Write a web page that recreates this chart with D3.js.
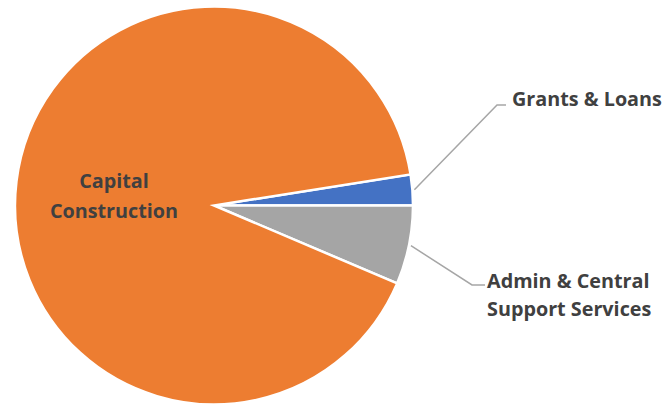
<!DOCTYPE html>
<html>
<head>
<meta charset="utf-8">
<script src="https://cdn.jsdelivr.net/npm/d3@7"></script>
<style>
  html, body { margin: 0; padding: 0; background: #fff; }
  svg { display: block; }
  text { font-family: "Open Sans", Lato, sans-serif; font-weight: 700; fill: #404040; }
</style>
</head>
<body>
<svg id="chart" width="672" height="404"></svg>
<script>
// Data (share of total, %)
const categories = ["Grants & Loans", "Admin & Central Support Services", "Capital Construction"];
const values = [2.5, 6.4, 91.1];
const colors = ["#4472C4", "#A5A5A5", "#ED7D31"];
const labelLines = [["Grants & Loans"], ["Admin & Central", "Support Services"], ["Capital", "Construction"]];

const svg = d3.select("#chart");
const cx = 214, cy = 205.5, r = 199;
const total = d3.sum(values);
const start = Math.PI / 2 - 2 * Math.PI * values[0] / total;

const pie = d3.pie().sort(null).value(d => d)
  .startAngle(start).endAngle(start + 2 * Math.PI);
const arcs = pie(values);
const arc = d3.arc().innerRadius(0).outerRadius(r);

const g = svg.append("g").attr("transform", `translate(${cx},${cy})`);
g.selectAll("path").data(arcs).join("path")
  .attr("d", arc)
  .attr("fill", (d, i) => colors[i])
  .attr("stroke", "#fff")
  .attr("stroke-width", 2.5)
  .attr("stroke-linejoin", "miter");

// font size fitted so "Grants & Loans" is ~150px wide
const probe = svg.append("text").attr("font-size", 20).text(labelLines[0][0]);
const fs = 20 * 150 / probe.node().getComputedTextLength();
probe.remove();

const outside = [
  { i: 0, knee: [497, 105], end: [506, 105], tx: 512, ty: 106 },
  { i: 1, knee: [472, 285], end: [485, 285], tx: 487, ty: 288 }
];
outside.forEach(o => {
  const a = (arcs[o.i].startAngle + arcs[o.i].endAngle) / 2;
  const sx = cx + (r + 2) * Math.sin(a), sy = cy - (r + 2) * Math.cos(a);
  svg.append("polyline")
    .attr("points", [[sx, sy], o.knee, o.end].map(p => p.join(",")).join(" "))
    .attr("fill", "none").attr("stroke", "#A6A6A6").attr("stroke-width", 1.5);
  const t = svg.append("text").attr("x", o.tx).attr("y", o.ty).attr("font-size", fs);
  labelLines[o.i].forEach((ln, k) => {
    t.append("tspan").attr("x", o.tx).attr("dy", k === 0 ? 0 : 28).text(ln);
  });
});

const tin = svg.append("text").attr("x", 114).attr("y", 188).attr("font-size", fs).attr("text-anchor", "middle");
labelLines[2].forEach((ln, k) => {
  tin.append("tspan").attr("x", 114).attr("dy", k === 0 ? 0 : 30).text(ln);
});
</script>
</body>
</html>
